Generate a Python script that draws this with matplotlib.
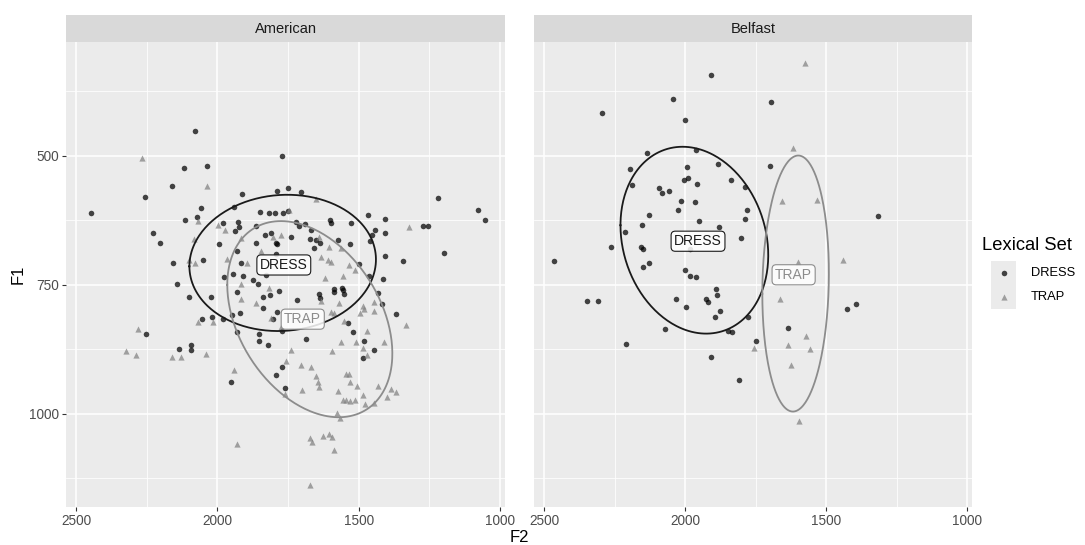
import numpy as np
import matplotlib
matplotlib.use('Agg')
import matplotlib.pyplot as plt

plt.rcParams['font.family'] = ['Liberation Sans', 'DejaVu Sans']

# ---------------- data (F2, F1 in Hz) ----------------
am_dress_f2 = [2078,1773,2446,2257,2118,2038,2159,1914,1788,1750,1703,2057,2116,2072,2229,2202,2158,2143,2051,1981,
               1942,1928,1922,1936,1993,1850,1819,1797,1767,1750,1862,1833,1812,1863,1793,1790,1738,1722,1690,1672,
               1651,1659,1929,1916,1944,1975,1908,1875,1828,1793,1856,
               1221,1079,1053,1274,1254,1199,1466,1406,1406,1441,1453,1460,1408,1344,1413,1462,1498,1527,1532,1574,
               1600,1598,1636,1560,1586,1668,1710,
               2099,2023,1931,1839,1814,1781,1718,1921,1947,1979,2018,2054,1837,1804,1789,1932,1852,1852,1820,1771,
               1687,2254,2135,2092,2095,1770,1794,1760,1951,1642,
               1586,1557,1553,1431,1418,1368,1539,1519,1482,1445,1484,1636]
am_dress_f1 = [453,501,612,581,525,520,559,574,568,562,570,601,624,620,651,669,709,749,703,631,
               600,629,638,646,672,609,612,612,612,607,636,654,650,669,669,672,658,629,632,661,
               664,680,684,708,729,735,734,742,732,690,748,
               583,605,624,636,636,689,616,623,651,645,653,665,694,704,739,733,711,631,671,663,
               625,630,669,757,758,644,636,
               775,774,764,774,770,763,779,806,808,816,812,817,795,816,803,841,845,859,867,840,
               855,846,874,867,877,909,925,951,938,768,
               764,760,768,766,788,807,825,841,860,877,892,776]

am_trap_f2 = [2265,2038,2070,1999,1974,2084,2100,2078,1967,1915,1896,1846,1804,1775,1745,1651,1916,1819,
              1321,1642,1604,1563,1633,1610,1598,1533,1512,1618,1557,
              1916,1863,2069,2014,1810,1775,2281,2322,2287,2162,2130,2041,1942,1738,1757,1703,1669,1651,1645,
              1700,1760,1932,1672,1666,1671,
              1633,1568,1598,1586,1551,1486,1480,1447,1447,1494,1333,1472,1412,1510,1563,1594,1486,1472,1642,
              1545,1535,1530,1506,1574,1486,1431,1385,1369,1401,1557,1545,1530,1512,1477,1445,1577,1565,1627,
              1606,1594,1588]
am_trap_f1 = [504,559,627,635,645,662,702,708,700,659,708,684,658,654,606,585,748,756,
              638,658,677,680,696,703,706,713,721,737,733,
              777,786,823,823,814,832,836,878,887,890,891,884,916,876,898,905,909,927,939,
              954,962,1058,1048,1055,1139,
              781,786,803,806,821,792,797,784,801,806,829,839,861,861,861,879,873,887,949,
              923,923,939,947,957,963,947,952,958,967,974,974,976,974,982,979,999,1009,1044,
              1040,1046,1071]

bf_dress_f2 = [1910,2042,2295,2000,2136,1963,2198,1995,1883,1837,1790,2189,2006,1989,1960,2093,2081,2058,2014,1965,
               2025,2130,1952,2155,2213,1881,1781,1787,1804,2264,2159,2151,1985,2465,2130,2150,2000,1982,1961,1890,
               1697,1700,1316,
               2348,2309,2032,1999,1926,1920,1887,1876,1894,2071,2211,1849,1835,1910,1809,1778,
               1749,1635,1428,1395]
bf_dress_f1 = [344,391,418,432,495,489,527,523,516,547,561,558,547,544,555,563,572,569,589,590,
               605,616,627,635,649,639,605,622,660,677,677,682,682,704,708,716,722,733,735,758,
               397,521,618,
               782,781,778,794,777,784,770,802,812,837,865,840,842,890,934,813,
               859,834,797,787]

bf_trap_f2 = [1577,1619,1657,1534,1600,1442,1665,1573,1635,1559,1757,1626,1598]
bf_trap_f1 = [320,485,589,586,706,703,777,850,867,875,873,905,1015]

# ellipse parameters: centre F2, centre F1, half-width, half-height, correlation
am_dress_ell = [1769, 708, 330, 132, 0.05]
am_trap_ell = [1673, 817, 292, 190, -0.35]
bf_dress_ell = [1968, 664, 262, 181, -0.16]
bf_trap_ell = [1609, 748, 118, 248, 0.08]

# label positions (group centres)
am_dress_lab = [1765, 712]
am_trap_lab = [1698, 817]
bf_dress_lab = [1955, 666]
bf_trap_lab = [1616, 731]

facets = ['American', 'Belfast']
groups = ['DRESS', 'TRAP']
legend_title = 'Lexical Set'
x_major = [2500, 2000, 1500, 1000]
x_minor = [2250, 1750, 1250]
y_major = [500, 750, 1000]
y_minor = [375, 625, 875, 1125]

# ---------------- styling ----------------
PANEL_BG = '#EBEBEB'
STRIP_BG = '#D9D9D9'
pt_color = {'DRESS': (0, 0, 0, 0.72), 'TRAP': (0.5, 0.5, 0.5, 0.72)}
ell_color = {'DRESS': '#1A1A1A', 'TRAP': '#8C8C8C'}
lab_text = {'DRESS': '#1A1A1A', 'TRAP': '#8C8C8C'}
marker = {'DRESS': 'o', 'TRAP': '^'}
msize = {'DRESS': 16, 'TRAP': 20}

panel_data = {
    'American': {'DRESS': (am_dress_f2, am_dress_f1, am_dress_ell, am_dress_lab),
                 'TRAP': (am_trap_f2, am_trap_f1, am_trap_ell, am_trap_lab)},
    'Belfast': {'DRESS': (bf_dress_f2, bf_dress_f1, bf_dress_ell, bf_dress_lab),
                'TRAP': (bf_trap_f2, bf_trap_f1, bf_trap_ell, bf_trap_lab)},
}

all_x = np.array(am_dress_f2 + am_trap_f2 + bf_dress_f2 + bf_trap_f2, float)
all_y = np.array(am_dress_f1 + am_trap_f1 + bf_dress_f1 + bf_trap_f1, float)
xr = all_x.max() - all_x.min()
yr = all_y.max() - all_y.min()
xlim = (all_x.max() + 0.05 * xr, all_x.min() - 0.05 * xr)  # reversed
ylim = (all_y.max() + 0.05 * yr, all_y.min() - 0.05 * yr)  # reversed

W, H = 1085, 545
fig = plt.figure(figsize=(W / 100, H / 100), dpi=100)

def fx(px):
    return px / W

def fy(py):
    return 1 - py / H

panel_px = [(66, 505), (534.3, 972.3)]
top_px, bot_px = 41.5, 506.5
strip_top = 15

def ellipse_xy(p, n=300):
    cx, cy, hx, hy, r = p
    t = np.linspace(0, 2 * np.pi, n)
    x = cx + hx * np.cos(t)
    y = cy + hy * (r * np.cos(t) + np.sqrt(1 - r * r) * np.sin(t))
    return x, y

for i, facet in enumerate(facets):
    l, r = panel_px[i]
    ax = fig.add_axes([fx(l), fy(bot_px), fx(r - l), (bot_px - top_px) / H])
    ax.set_facecolor(PANEL_BG)
    for s in ax.spines.values():
        s.set_visible(False)
    ax.set_xlim(*xlim)
    ax.set_ylim(*ylim)
    ax.set_xticks(x_major)
    ax.set_xticks(x_minor, minor=True)
    ax.set_yticks(y_major)
    ax.set_yticks(y_minor, minor=True)
    ax.grid(True, which='major', color='white', lw=1.1)
    ax.grid(True, which='minor', color='white', lw=0.55)
    ax.set_axisbelow(True)
    ax.tick_params(which='minor', length=0)
    ax.tick_params(which='major', length=3.2, width=0.8, color='#333333',
                   labelcolor='#4D4D4D', labelsize=9.8, pad=2)
    if i > 0:
        ax.tick_params(axis='y', which='both', left=False, labelleft=False)

    for g in groups:
        xs, ys, ell, lab = panel_data[facet][g]
        ax.scatter(xs, ys, s=msize[g], marker=marker[g], c=[pt_color[g]],
                   linewidths=0, zorder=3)
    for g in groups:
        xs, ys, ell, lab = panel_data[facet][g]
        ex, ey = ellipse_xy(ell)
        ax.plot(ex, ey, color=ell_color[g], lw=1.3, zorder=4)
    for g in groups:
        xs, ys, ell, lab = panel_data[facet][g]
        ax.text(lab[0], lab[1], g, ha='center', va='center', fontsize=10,
                color=lab_text[g], zorder=5,
                bbox=dict(boxstyle='round,pad=0.22,rounding_size=0.3',
                          fc=(1, 1, 1, 0.85), ec=lab_text[g], lw=0.8))

    # strip
    sax = fig.add_axes([fx(l), fy(top_px), fx(r - l), (top_px - strip_top) / H])
    sax.set_facecolor(STRIP_BG)
    sax.set_xticks([])
    sax.set_yticks([])
    for s in sax.spines.values():
        s.set_visible(False)
    sax.text(0.5, 0.48, facet, ha='center', va='center', fontsize=10.5,
             color='#1A1A1A', transform=sax.transAxes)

# axis titles
fig.text(fx((66 + 972.3) / 2), fy(537), 'F2', ha='center', va='center', fontsize=12, color='black')
fig.text(fx(18), fy((top_px + bot_px) / 2), 'F1', ha='center', va='center', rotation=90,
         fontsize=12, color='black')

# legend (ggplot-style: grey key boxes, title above)
key_l, key_r, key_t, key_b = 991, 1016, 261, 309
lax = fig.add_axes([fx(key_l), fy(key_b), fx(key_r - key_l), (key_b - key_t) / H])
lax.set_facecolor('#EBEBEB')
lax.set_xlim(0, 1)
lax.set_ylim(len(groups), 0)
lax.set_xticks([])
lax.set_yticks([])
for s in lax.spines.values():
    s.set_visible(False)
for k, g in enumerate(groups):
    lax.scatter([0.5], [k + 0.5], s=msize[g], marker=marker[g], c=[pt_color[g]], linewidths=0)
    fig.text(fx(1031), fy(key_t + (key_b - key_t) * (k + 0.5) / len(groups)), g,
             ha='left', va='center', fontsize=9.3, color='black')
fig.text(fx(982), fy(245), legend_title, ha='left', va='center', fontsize=13.2, color='black')

fig.savefig('out.png', dpi=100)
